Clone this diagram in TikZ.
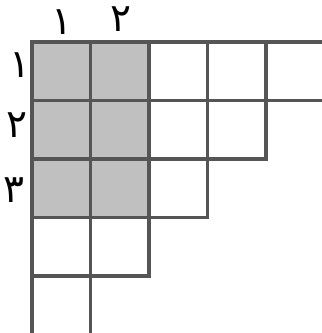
\documentclass[tikz,border=0pt]{standalone}
\usepackage{fontspec}
\newfontfamily\arabicfont[Script=Arabic]{DejaVu Sans}
\TeXXeTstate=1
\usepackage{tikz}
\usetikzlibrary{positioning}
\definecolor{gridline}{RGB}{85, 85, 85}
\definecolor{shadegray}{RGB}{192, 192, 192}
\tikzset{
  cell/.style={draw=gridline, line width=1.5pt, fill=#1},
  cell/.default=white,
  idx/.style={font=\fontsize{19}{22}\selectfont\arabicfont, inner sep=0pt},
}
\begin{document}
\begin{tikzpicture}[x=1cm, y=1cm]
  \useasboundingbox (-0.547, -4.974) rectangle (4.957, 0.718);
  \clip (-0.547, -4.974) rectangle (4.957, 0.718);
  % staircase rows of length 5,4,3,2,1
  \foreach \r/\len in {1/5, 2/4, 3/3, 4/2, 5/1} {
    \foreach \c in {1,...,\len} {
      \draw[cell] (\c-1, -\r+1) rectangle (\c, -\r);
    }
  }
  % shaded 3x2 block
  \foreach \r in {1,2,3} {
    \foreach \c in {1,2} {
      \draw[cell=shadegray] (\c-1, -\r+1) rectangle (\c, -\r);
    }
  }
  % column and row indices
  \node[idx] (col1) at (0.51, 0.34) {\beginR ١\endR};
  \node[idx] (col2) at (1.52, 0.39) {\beginR ٢\endR};
  \node[idx] (row1) at (-0.21, -0.39) {\beginR ١\endR};
  \node[idx] (row2) at (-0.26, -1.42) {\beginR ٢\endR};
  \node[idx] (row3) at (-0.31, -2.53) {\beginR ٣\endR};
\end{tikzpicture}
\end{document}
